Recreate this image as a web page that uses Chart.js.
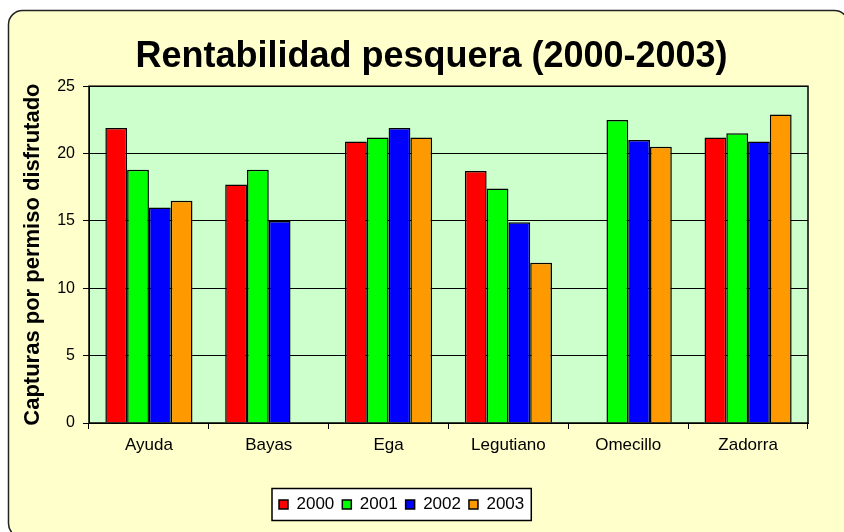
<!DOCTYPE html>
<html lang="es">
<head>
<meta charset="utf-8">
<title>Rentabilidad pesquera (2000-2003)</title>
<script src="https://cdn.jsdelivr.net/npm/chart.js@4.4.1/dist/chart.umd.min.js"></script>
<style>
  html, body { margin: 0; padding: 0; background: #ffffff; }
  .contenedor { width: 844px; height: 532px; }
</style>
</head>
<body>
<div class="contenedor"><canvas id="graficoPesca"></canvas></div>
<script>
const categorias = ['Ayuda', 'Bayas', 'Ega', 'Legutiano', 'Omecillo', 'Zadorra'];
const anios = ['2000', '2001', '2002', '2003'];
const datos2000 = [21.9, 17.7, 20.9, 18.7, null, 21.2];
const datos2001 = [18.8, 18.8, 21.2, 17.4, 22.5, 21.5];
const datos2002 = [16.0, 15.0, 21.9, 14.9, 21.0, 20.9];
const datos2003 = [16.5, null, 21.2, 11.9, 20.5, 22.9];
const ticksY = [0, 5, 10, 15, 20, 25];

const colores = ['#ff0000', '#00ff00', '#0000ff', '#ff9900'];
const fuente = "'Liberation Sans', Arial, sans-serif";

// fondo amarillo redondeado, area verde y recuadro de la leyenda
const fondos = {
  id: 'fondos',
  afterLayout(chart) {
    // centrar titulo y leyenda como en el original
    chart.titleBlock.left += 19;
    chart.titleBlock.right += 19;
    const leyenda = chart.legend;
    const pad = leyenda.options.labels.padding;
    const inicio = (leyenda.left + pad + leyenda.right - leyenda.lineWidths[0]) / 2;
    const dx = 279 - inicio;
    leyenda.left += dx;
    leyenda.right += dx;
  },
  beforeDraw(chart) {
    const ctx = chart.ctx;
    const area = chart.chartArea;
    ctx.save();
    ctx.fillStyle = '#ffffff';
    ctx.fillRect(0, 0, chart.width, chart.height);

    ctx.beginPath();
    ctx.roundRect(8.5, 10.5, 840, 527, 14);
    ctx.fillStyle = '#ffffcc';
    ctx.fill();
    ctx.lineWidth = 1.5;
    ctx.strokeStyle = '#222222';
    ctx.stroke();

    ctx.fillStyle = '#ccffcc';
    ctx.fillRect(area.left, area.top, area.right - area.left, area.bottom - area.top);

    const cajas = chart.legend.legendHitBoxes;
    if (cajas && cajas.length) {
      const izq = cajas[0].left - 7;
      const ult = cajas[cajas.length - 1];
      const der = ult.left + ult.width + 7;
      const medio = cajas[0].top + cajas[0].height / 2;
      ctx.fillStyle = '#ffffff';
      ctx.fillRect(izq, medio - 16, der - izq, 32);
      ctx.lineWidth = 1.5;
      ctx.strokeStyle = '#000000';
      ctx.strokeRect(izq, medio - 16, der - izq, 32);
    }
    ctx.restore();
  },
  afterDraw(chart) {
    const ctx = chart.ctx;
    const area = chart.chartArea;
    ctx.save();
    ctx.lineWidth = 1.5;
    ctx.strokeStyle = '#000000';
    ctx.strokeRect(area.left, area.top, area.right - area.left, area.bottom - area.top);
    ctx.restore();
  }
};

const series = [datos2000, datos2001, datos2002, datos2003];

const ctx = document.getElementById('graficoPesca').getContext('2d');

const graficoPesca = new Chart(ctx, {
  type: 'bar',
  data: {
    labels: categorias,
    datasets: series.map((valores, i) => ({
      label: anios[i],
      data: valores,
      backgroundColor: colores[i],
      borderColor: '#000000',
      borderWidth: 1.5,
      categoryPercentage: 0.727,
      barPercentage: 1
    }))
  },
  options: {
    responsive: true,
    maintainAspectRatio: false,
    animation: false,
    layout: {
      padding: { left: 17, right: 36, top: 0, bottom: 9 }
    },
    plugins: {
      title: {
        display: true,
        text: 'Rentabilidad pesquera (2000-2003)',
        color: '#000000',
        font: { family: fuente, size: 36, weight: 'bold' },
        padding: { top: 35, bottom: 8 }
      },
      legend: {
        position: 'bottom',
        labels: {
          color: '#000000',
          boxWidth: 9,
          boxHeight: 9,
          padding: 8,
          font: { family: fuente, size: 17 }
        }
      },
      tooltip: { enabled: false }
    },
    scales: {
      x: {
        afterFit(escala) { escala.height = 65; },
        grid: {
          offset: true,
          drawOnChartArea: false,
          drawTicks: true,
          tickLength: 6,
          color: '#000000'
        },
        border: { display: true, color: '#000000', width: 1 },
        ticks: {
          color: '#000000',
          padding: 6,
          font: { family: fuente, size: 17 }
        }
      },
      y: {
        min: 0,
        max: 25,
        afterFit(escala) { escala.width = 72; },
        afterBuildTicks(escala) {
          escala.ticks = ticksY.map(v => ({ value: v }));
        },
        grid: {
          color: '#000000',
          lineWidth: 1,
          tickLength: 6
        },
        border: { display: true, color: '#000000', width: 1 },
        ticks: {
          color: '#000000',
          padding: 8,
          font: { family: fuente, size: 16 }
        },
        title: {
          display: true,
          text: 'Capturas por permiso disfrutado',
          color: '#000000',
          font: { family: fuente, size: 22, weight: 'bold' },
          padding: { top: 3, bottom: 4 }
        }
      }
    }
  },
  plugins: [fondos]
});
</script>
</body>
</html>
